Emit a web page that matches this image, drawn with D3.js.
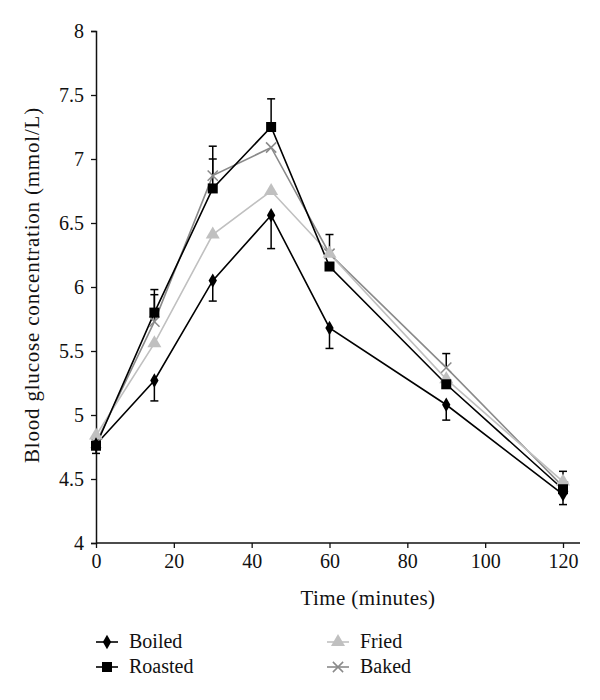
<!DOCTYPE html>
<html><head><meta charset="utf-8">
<script src="https://cdn.jsdelivr.net/npm/d3@7"></script>
<style>body{margin:0;background:#fff}svg{display:block}text{font-family:"Liberation Serif","DejaVu Serif",serif;fill:#111}</style>
</head><body><svg id="c" width="600" height="700"></svg>
<script>
const times = [0, 15, 30, 45, 60, 90, 120];
const boiled  = [4.77, 5.27, 6.05, 6.56, 5.68, 5.08, 4.38];
const roasted = [4.76, 5.80, 6.77, 7.25, 6.16, 5.24, 4.42];
const fried   = [4.84, 5.56, 6.41, 6.75, 6.26, 5.28, 4.48];
const baked   = [4.78, 5.73, 6.87, 7.09, 6.26, 5.37, 4.44];
const boiledLow = [4.70, 5.11, 5.89, 6.30, 5.52, 4.96, 4.30];
const roastedHigh = [null, 5.98, 7.10, 7.47, null, null, null];
const bakedHigh = [null, 5.94, 7.00, null, 6.41, 5.48, 4.56];
const seriesNames = ["Boiled", "Roasted", "Fried", "Baked"];
const xTicks = [0, 20, 40, 60, 80, 100, 120];
const yTicks = [4, 4.5, 5, 5.5, 6, 6.5, 7, 7.5, 8];

const svg = d3.select("#c");
const x = d3.scaleLinear().domain([0, 120]).range([96, 563]);
const y = d3.scaleLinear().domain([4, 8]).range([543, 31]);

const xAxis = svg.append("g").attr("transform", "translate(0,543)")
  .call(d3.axisBottom(x).tickValues(xTicks).tickSize(5).tickPadding(6).tickFormat(d3.format("d")));
xAxis.select(".domain").attr("d", "M96,0H580");
const yAxis = svg.append("g").attr("transform", "translate(96,0)")
  .call(d3.axisLeft(y).tickValues(yTicks).tickSize(5).tickPadding(7).tickFormat(d => d3.format("")(d)));
[xAxis, yAxis].forEach(a => {
  a.selectAll(".domain").attr("stroke", "#111").attr("stroke-width", 1.5);
  a.selectAll(".tick line").attr("stroke", "#111").attr("stroke-width", 1.3);
  a.selectAll("text").style("font-size", "20px").style("font-family", "'Liberation Serif',serif").attr("fill", "#111");
});

svg.append("text").attr("x", 368).attr("y", 605).attr("text-anchor", "middle")
  .style("font-size", "21px").style("letter-spacing", "0.4px").text("Time (minutes)");
svg.append("text").attr("transform", "translate(39,285) rotate(-90)").attr("text-anchor", "middle")
  .style("font-size", "21px").style("letter-spacing", "0.8px").text("Blood glucose concentration (mmol/L)");

const series = [
  {name: seriesNames[0], vals: boiled, color: "#000", marker: "diamond"},
  {name: seriesNames[1], vals: roasted, color: "#000", marker: "square"},
  {name: seriesNames[2], vals: fried, color: "#c0c0c0", marker: "triangle"},
  {name: seriesNames[3], vals: baked, color: "#8a8a8a", marker: "cross"}
];
const line = d3.line().x((d, i) => x(times[i])).y(d => y(d));

function drawMarker(g, type, color, cx, cy) {
  if (type === "diamond") g.append("path").attr("d", d3.symbol(d3.symbolDiamond, 60)()).attr("transform", `translate(${cx},${cy})`).attr("fill", color);
  if (type === "square") g.append("path").attr("d", d3.symbol(d3.symbolSquare, 100)()).attr("transform", `translate(${cx},${cy})`).attr("fill", color);
  if (type === "triangle") g.append("path").attr("d", d3.symbol(d3.symbolTriangle, 85)()).attr("transform", `translate(${cx},${cy})`).attr("fill", color);
  if (type === "cross") g.append("path").attr("d", d3.symbol(d3.symbolX, 70)()).attr("transform", `translate(${cx},${cy})`).attr("fill", "none").attr("stroke", color).attr("stroke-width", 1.5);
}

function errBars(g, base, ends, color) {
  ends.forEach((e, i) => {
    if (e == null) return;
    const cx = x(times[i]);
    g.append("line").attr("x1", cx).attr("x2", cx).attr("y1", y(base[i])).attr("y2", y(e)).attr("stroke", color).attr("stroke-width", 1.5);
    g.append("line").attr("x1", cx - 4).attr("x2", cx + 4).attr("y1", y(e)).attr("y2", y(e)).attr("stroke", color).attr("stroke-width", 1.5);
  });
}

const plot = svg.append("g");
errBars(plot, boiled, boiledLow, "#000");
errBars(plot, roasted, roastedHigh, "#000");
errBars(plot, baked, bakedHigh, "#000");

[series[3], series[2], series[1], series[0]].forEach(s => {
  plot.append("path").attr("d", line(s.vals)).attr("fill", "none").attr("stroke", s.color).attr("stroke-width", 1.6);
});
[series[3], series[2], series[1], series[0]].forEach(s => {
  s.vals.forEach((v, i) => drawMarker(plot, s.marker, s.color, x(times[i]), y(v)));
});

const legPos = [[96, 642], [96, 667], [327, 642], [327, 667]];
series.forEach((s, i) => {
  const [lx, ly] = legPos[i];
  const g = svg.append("g");
  g.append("line").attr("x1", lx).attr("x2", lx + 22).attr("y1", ly).attr("y2", ly).attr("stroke", s.color).attr("stroke-width", 1.6);
  drawMarker(g, s.marker, s.color, lx + 11, ly);
  g.append("text").attr("x", lx + 33).attr("y", ly + 6).style("font-size", "20px").text(s.name);
});
</script></body></html>
